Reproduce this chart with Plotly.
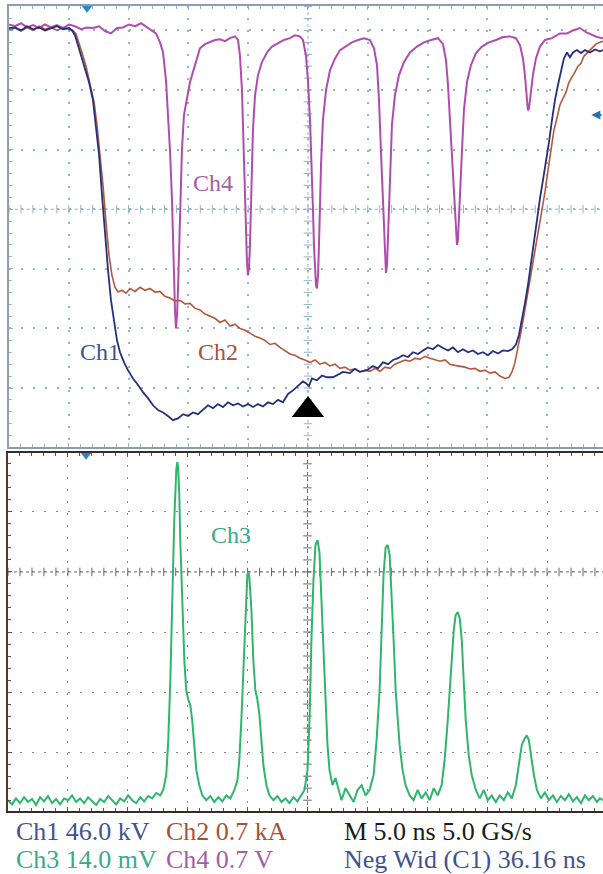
import numpy as np
import plotly.graph_objects as go

# ---------------- data (time in ns, amplitude in screen divisions) ----------------
ch1_points = [(-25.00,3.04),(-24.50,3.05),(-24.00,3.00),(-23.49,3.07),(-22.99,3.02),(-22.49,3.05),(-21.99,3.00),(-21.49,3.04),(-20.99,3.07),(-20.48,3.02),(-19.98,3.04),(-19.73,3.00),(-19.48,2.92),(-19.23,2.75),(-18.98,2.58),(-18.65,2.38),(-18.31,2.13),(-17.98,1.83),(-17.73,1.41),(-17.47,0.91),(-17.22,0.23),(-16.97,-0.44),(-16.72,-1.02),(-16.47,-1.53),(-16.22,-1.90),(-15.97,-2.20),(-15.72,-2.40),(-15.38,-2.57),(-15.05,-2.70),(-14.63,-2.84),(-14.21,-2.95),(-13.80,-3.07),(-13.38,-3.17),(-12.96,-3.29),(-12.54,-3.37),(-12.12,-3.41),(-11.71,-3.47),(-11.29,-3.54),(-10.87,-3.51),(-10.45,-3.44),(-10.03,-3.47),(-9.62,-3.41),(-9.20,-3.44),(-8.78,-3.37),(-8.36,-3.29),(-7.94,-3.34),(-7.53,-3.27),(-7.11,-3.32),(-6.69,-3.24),(-6.27,-3.29),(-5.85,-3.26),(-5.43,-3.31),(-5.02,-3.27),(-4.60,-3.32),(-4.18,-3.27),(-3.76,-3.31),(-3.34,-3.24),(-2.93,-3.27),(-2.51,-3.20),(-2.09,-3.24),(-1.67,-3.10),(-1.25,-3.04),(-0.84,-2.97),(-0.42,-2.89),(-0.17,-2.92),(0.08,-2.97),(0.33,-2.84),(0.75,-2.87),(1.17,-2.79),(1.59,-2.82),(2.09,-2.82),(2.51,-2.77),(2.93,-2.73),(3.51,-2.75),(3.93,-2.68),(4.35,-2.73),(4.93,-2.70),(5.43,-2.63),(5.85,-2.67),(6.27,-2.57),(6.69,-2.60),(7.11,-2.53),(7.53,-2.50),(7.94,-2.45),(8.36,-2.48),(8.78,-2.40),(9.20,-2.43),(9.62,-2.37),(10.03,-2.32),(10.45,-2.35),(10.87,-2.28),(11.29,-2.33),(11.71,-2.37),(12.12,-2.32),(12.54,-2.40),(12.96,-2.35),(13.38,-2.40),(13.80,-2.37),(14.21,-2.43),(14.63,-2.40),(15.05,-2.45),(15.47,-2.38),(15.89,-2.42),(16.30,-2.37),(16.72,-2.38),(17.06,-2.35),(17.39,-2.27),(17.64,-2.11),(17.89,-1.86),(18.14,-1.58),(18.39,-1.28),(18.65,-0.89),(18.90,-0.52),(19.15,-0.15),(19.40,0.18),(19.65,0.49),(19.90,0.79),(20.15,1.12),(20.40,1.49),(20.65,1.83),(20.90,2.08),(21.15,2.33),(21.40,2.53),(21.66,2.63),(21.91,2.55),(22.16,2.63),(22.49,2.67),(22.83,2.62),(23.16,2.67),(23.58,2.63),(24.00,2.68),(24.41,2.65),(24.67,2.67)]

ch2_points = [(-25.00,3.00),(-24.50,3.04),(-24.00,2.99),(-23.49,3.05),(-22.99,3.00),(-22.49,3.07),(-21.99,3.02),(-21.49,3.05),(-20.99,3.00),(-20.48,3.05),(-19.98,3.02),(-19.65,3.00),(-19.40,2.94),(-19.15,2.80),(-18.90,2.63),(-18.56,2.40),(-18.23,2.13),(-17.89,1.80),(-17.64,1.41),(-17.39,0.96),(-17.14,0.40),(-16.89,-0.22),(-16.64,-0.77),(-16.39,-1.11),(-16.14,-1.31),(-15.89,-1.39),(-15.55,-1.36),(-15.22,-1.41),(-14.88,-1.33),(-14.46,-1.38),(-14.05,-1.31),(-13.63,-1.36),(-13.21,-1.33),(-12.79,-1.39),(-12.37,-1.38),(-11.96,-1.46),(-11.54,-1.49),(-11.12,-1.54),(-10.70,-1.53),(-10.28,-1.59),(-9.87,-1.58),(-9.45,-1.66),(-9.03,-1.69),(-8.61,-1.76),(-8.19,-1.80),(-7.78,-1.83),(-7.36,-1.90),(-6.94,-1.86),(-6.52,-1.96),(-6.10,-1.93),(-5.69,-2.00),(-5.27,-2.03),(-4.85,-2.08),(-4.43,-2.13),(-4.01,-2.16),(-3.60,-2.20),(-3.18,-2.27),(-2.76,-2.25),(-2.34,-2.32),(-1.92,-2.37),(-1.51,-2.43),(-1.09,-2.45),(-0.67,-2.50),(-0.25,-2.53),(0.17,-2.57),(0.59,-2.53),(1.00,-2.60),(1.42,-2.57),(1.84,-2.63),(2.26,-2.60),(2.68,-2.67),(3.09,-2.65),(3.51,-2.70),(3.93,-2.68),(4.35,-2.73),(4.77,-2.70),(5.18,-2.72),(5.60,-2.67),(6.02,-2.72),(6.44,-2.65),(6.86,-2.67),(7.27,-2.60),(7.69,-2.57),(8.11,-2.53),(8.53,-2.55),(8.95,-2.50),(9.36,-2.52),(9.78,-2.47),(10.20,-2.50),(10.62,-2.53),(11.04,-2.55),(11.45,-2.53),(11.87,-2.60),(12.29,-2.62),(12.71,-2.63),(13.13,-2.65),(13.55,-2.68),(13.96,-2.67),(14.38,-2.72),(14.80,-2.70),(15.22,-2.75),(15.64,-2.73),(16.05,-2.80),(16.47,-2.84),(16.81,-2.82),(17.06,-2.73),(17.31,-2.57),(17.56,-2.33),(17.81,-2.06),(18.06,-1.78),(18.31,-1.49),(18.56,-1.19),(18.81,-0.89),(19.06,-0.60),(19.31,-0.32),(19.57,-0.02),(19.82,0.29),(20.07,0.65),(20.32,1.02),(20.57,1.33),(20.82,1.53),(21.07,1.75),(21.32,1.86),(21.57,1.96),(21.82,2.13),(22.07,2.21),(22.32,2.30),(22.58,2.40),(22.83,2.45),(23.08,2.57),(23.33,2.62),(23.58,2.67),(23.83,2.72),(24.08,2.77),(24.41,2.80),(24.67,2.82)]

ch4_points = [(-25.00,3.10),(-24.50,3.07),(-24.00,3.12),(-23.49,3.05),(-22.99,3.09),(-22.49,3.04),(-21.99,3.10),(-21.49,3.05),(-20.99,3.09),(-20.48,3.04),(-19.98,3.10),(-19.48,3.07),(-18.98,3.02),(-18.48,3.05),(-17.98,3.04),(-17.47,3.07),(-16.97,2.99),(-16.47,2.95),(-15.97,3.04),(-15.47,3.05),(-14.97,3.10),(-14.46,3.07),(-13.96,3.12),(-13.46,3.05),(-13.04,3.00),(-12.71,2.95),(-12.37,2.80),(-12.12,2.63),(-11.87,2.16),(-11.71,1.66),(-11.54,0.99),(-11.37,0.15),(-11.29,-0.52),(-11.20,-1.19),(-11.12,-1.69),(-11.04,-2.00),(-10.95,-1.78),(-10.87,-1.36),(-10.79,-0.86),(-10.70,-0.35),(-10.62,0.32),(-10.54,0.99),(-10.37,1.58),(-10.12,1.83),(-9.87,2.13),(-9.62,2.30),(-9.28,2.53),(-9.03,2.70),(-8.61,2.77),(-8.19,2.80),(-7.78,2.84),(-7.36,2.85),(-6.94,2.82),(-6.52,2.87),(-6.10,2.90),(-5.85,2.84),(-5.69,2.58),(-5.52,2.00),(-5.43,1.33),(-5.35,0.65),(-5.27,-0.02),(-5.18,-0.52),(-5.10,-0.89),(-5.02,-1.11),(-4.93,-0.99),(-4.85,-0.60),(-4.77,-0.02),(-4.68,0.65),(-4.60,1.33),(-4.43,1.91),(-4.18,2.25),(-3.85,2.47),(-3.43,2.63),(-3.01,2.73),(-2.51,2.79),(-2.01,2.84),(-1.51,2.87),(-1.09,2.92),(-0.67,2.90),(-0.42,2.84),(-0.17,2.58),(0.00,2.16),(0.17,1.49),(0.33,0.65),(0.42,-0.02),(0.50,-0.60),(0.59,-1.02),(0.67,-1.28),(0.75,-1.33),(0.84,-1.11),(0.92,-0.60),(1.00,0.07),(1.09,0.74),(1.25,1.49),(1.51,2.00),(1.84,2.33),(2.26,2.53),(2.68,2.67),(3.18,2.73),(3.68,2.80),(4.18,2.84),(4.68,2.87),(5.18,2.84),(5.52,2.70),(5.77,2.42),(5.94,1.83),(6.10,0.99),(6.27,0.15),(6.35,-0.35),(6.44,-0.82),(6.52,-1.07),(6.61,-0.94),(6.69,-0.52),(6.77,0.07),(6.86,0.65),(7.02,1.41),(7.27,1.91),(7.61,2.25),(8.03,2.47),(8.53,2.63),(9.11,2.73),(9.70,2.80),(10.28,2.84),(10.87,2.87),(11.29,2.77),(11.54,2.50),(11.71,2.08),(11.87,1.49),(12.04,0.82),(12.21,0.15),(12.37,-0.39),(12.46,-0.60),(12.54,-0.52),(12.63,-0.18),(12.71,0.23),(12.88,0.99),(13.04,1.66),(13.29,2.13),(13.63,2.42),(14.05,2.62),(14.55,2.73),(15.13,2.80),(15.72,2.84),(16.30,2.89),(16.89,2.90),(17.39,2.87),(17.73,2.75),(17.98,2.53),(18.14,2.25),(18.31,1.91),(18.39,1.66),(18.48,1.69),(18.65,1.96),(18.81,2.25),(19.06,2.53),(19.40,2.73),(19.82,2.84),(20.40,2.87),(21.07,2.95),(21.66,2.95),(22.16,3.00),(22.74,3.04),(23.24,2.97),(23.75,2.92),(24.16,2.89),(24.67,2.87)]

ch3_points = [(-25.00,-3.80),(-24.67,-3.87),(-24.33,-3.77),(-24.00,-3.85),(-23.66,-3.75),(-23.33,-3.83),(-22.99,-3.78),(-22.66,-3.88),(-22.32,-3.75),(-21.99,-3.82),(-21.66,-3.73),(-21.32,-3.85),(-20.99,-3.78),(-20.65,-3.87),(-20.32,-3.77),(-19.98,-3.80),(-19.65,-3.72),(-19.31,-3.83),(-18.98,-3.77),(-18.65,-3.85),(-18.31,-3.75),(-17.98,-3.82),(-17.64,-3.88),(-17.31,-3.78),(-16.97,-3.83),(-16.64,-3.73),(-16.30,-3.80),(-15.97,-3.87),(-15.64,-3.77),(-15.30,-3.82),(-14.97,-3.72),(-14.63,-3.80),(-14.30,-3.85),(-13.96,-3.75),(-13.63,-3.82),(-13.29,-3.73),(-12.96,-3.77),(-12.63,-3.68),(-12.29,-3.72),(-12.04,-3.63),(-11.79,-3.38),(-11.62,-2.80),(-11.45,-1.80),(-11.29,-0.47),(-11.12,0.87),(-10.95,1.70),(-10.87,1.83),(-10.79,1.73),(-10.70,1.28),(-10.62,0.53),(-10.45,-0.63),(-10.28,-1.47),(-10.12,-1.97),(-9.95,-2.13),(-9.78,-2.22),(-9.62,-2.47),(-9.45,-2.88),(-9.28,-3.30),(-9.03,-3.55),(-8.78,-3.72),(-8.45,-3.80),(-8.11,-3.73),(-7.78,-3.83),(-7.44,-3.75),(-7.11,-3.82),(-6.77,-3.72),(-6.44,-3.77),(-6.10,-3.63),(-5.85,-3.47),(-5.69,-3.13),(-5.52,-2.47),(-5.35,-1.63),(-5.18,-0.63),(-5.02,-0.05),(-4.93,0.00),(-4.85,-0.10),(-4.68,-0.63),(-4.52,-1.47),(-4.35,-1.97),(-4.18,-2.13),(-4.01,-2.38),(-3.85,-2.80),(-3.68,-3.22),(-3.43,-3.55),(-3.18,-3.72),(-2.84,-3.80),(-2.51,-3.73),(-2.17,-3.83),(-1.84,-3.77),(-1.51,-3.85),(-1.17,-3.75),(-0.84,-3.82),(-0.50,-3.72),(-0.25,-3.63),(0.00,-3.30),(0.17,-2.47),(0.33,-1.13),(0.50,-0.13),(0.67,0.45),(0.84,0.53),(1.00,0.33),(1.17,-0.47),(1.34,-1.47),(1.51,-2.30),(1.67,-2.88),(1.84,-3.30),(2.09,-3.55),(2.34,-3.43),(2.59,-3.63),(2.84,-3.80),(3.18,-3.60),(3.51,-3.72),(3.85,-3.83),(4.18,-3.63),(4.52,-3.55),(4.85,-3.72),(5.18,-3.63),(5.52,-3.38),(5.77,-2.80),(6.02,-1.97),(6.19,-0.97),(6.35,-0.05),(6.52,0.40),(6.69,0.45),(6.86,0.28),(7.02,-0.30),(7.19,-1.13),(7.36,-1.97),(7.53,-2.47),(7.69,-2.88),(7.94,-3.30),(8.19,-3.55),(8.53,-3.72),(8.86,-3.80),(9.20,-3.63),(9.53,-3.77),(9.87,-3.67),(10.20,-3.80),(10.54,-3.60),(10.87,-3.72),(11.20,-3.55),(11.45,-3.13),(11.71,-2.47),(11.96,-1.63),(12.21,-0.97),(12.37,-0.72),(12.54,-0.67),(12.71,-0.77),(12.88,-1.13),(13.04,-1.80),(13.21,-2.47),(13.46,-3.05),(13.71,-3.38),(14.05,-3.63),(14.38,-3.77),(14.72,-3.63),(15.05,-3.80),(15.38,-3.72),(15.72,-3.83),(16.05,-3.72),(16.39,-3.80),(16.72,-3.67),(17.06,-3.77),(17.39,-3.55),(17.64,-3.22),(17.89,-2.88),(18.14,-2.77),(18.31,-2.72),(18.48,-2.80),(18.65,-3.05),(18.90,-3.38),(19.15,-3.63),(19.48,-3.77),(19.82,-3.67),(20.15,-3.80),(20.49,-3.72),(20.82,-3.83),(21.15,-3.73),(21.49,-3.80),(21.82,-3.70),(22.16,-3.82),(22.49,-3.75),(22.83,-3.85),(23.16,-3.72),(23.49,-3.80),(23.83,-3.73),(24.16,-3.83),(24.41,-3.77),(24.67,-3.80)]

trigger_time = [0.0]
trigger_level = [-3.37]
pretrig_time = [-18.48]
level_arrow = [1.58]

channel_labels = ["Ch1", "Ch2", "Ch3", "Ch4"]
readout_row1 = ["Ch1 46.0 kV", "Ch2 0.7 kA", "M 5.0 ns 5.0 GS/s"]
readout_row2 = ["Ch3 14.0 mV", "Ch4 0.7 V", "Neg Wid (C1) 36.16 ns"]

# ---------------- styling ----------------
W, H = 603, 874
FONT = "Liberation Serif"
C1, C2, C3, C4 = "#25307c", "#b3583c", "#2fb56c", "#b04cae"
T1, T2, T3, T4 = "#3f5391", "#a8513a", "#3aa98b", "#a45ca8"
GRID_TOP, GRID_BOT = "#93b4c4", "#858585"

X_RANGE = [-25.0, 24.67]
Y1_RANGE = [-3.99, 3.41]
Y2_RANGE = [-3.98, 1.98]

def py(px):
    return 1 - px / H

fig = go.Figure()

def unzip(pts):
    return [p[0] for p in pts], [p[1] for p in pts]

# crosshair tick marks (decoration)
def crosshair(xa, ya, yr, col):
    xt = np.arange(-25, 24.7, 1.0)
    fig.add_trace(go.Scatter(x=xt, y=np.zeros_like(xt), mode="markers", xaxis=xa, yaxis=ya,
                             marker=dict(symbol="line-ns", size=6, line=dict(width=1, color=col)),
                             hoverinfo="skip", showlegend=False))
    yt = np.arange(np.ceil(yr[0] / 0.2) * 0.2, yr[1], 0.2)
    fig.add_trace(go.Scatter(x=np.zeros_like(yt), y=yt, mode="markers", xaxis=xa, yaxis=ya,
                             marker=dict(symbol="line-ew", size=6, line=dict(width=1, color=col)),
                             hoverinfo="skip", showlegend=False))

crosshair("x", "y", Y1_RANGE, GRID_TOP)
crosshair("x2", "y2", Y2_RANGE, "#666666")

for pts, col, w in [(ch4_points, C4, 2.0), (ch2_points, C2, 1.6), (ch1_points, C1, 1.8)]:
    t, v = unzip(pts)
    fig.add_trace(go.Scatter(x=t, y=v, mode="lines", line=dict(color=col, width=w),
                             xaxis="x", yaxis="y", hoverinfo="skip", showlegend=False))

t3, v3 = unzip(ch3_points)
fig.add_trace(go.Scatter(x=t3, y=v3, mode="lines", line=dict(color=C3, width=2.0),
                         xaxis="x2", yaxis="y2", hoverinfo="skip", showlegend=False))

# trigger triangle
fig.add_trace(go.Scatter(x=trigger_time, y=trigger_level, mode="markers", xaxis="x", yaxis="y",
                         marker=dict(symbol="triangle-up", size=28, color="black"),
                         hoverinfo="skip", showlegend=False))
# pre-trigger position markers
fig.add_trace(go.Scatter(x=pretrig_time, y=[Y1_RANGE[1] - 0.02], mode="markers", xaxis="x", yaxis="y",
                         marker=dict(symbol="triangle-down", size=11, color="#2a86c6"),
                         cliponaxis=False, hoverinfo="skip", showlegend=False))
fig.add_trace(go.Scatter(x=pretrig_time, y=[Y2_RANGE[1] - 0.02], mode="markers", xaxis="x2", yaxis="y2",
                         marker=dict(symbol="triangle-down", size=11, color="#2a86c6"),
                         cliponaxis=False, hoverinfo="skip", showlegend=False))

axis_common = dict(showticklabels=False, zeroline=False, showline=True, fixedrange=True)

fig.update_layout(
    width=W, height=H, margin=dict(l=0, r=0, t=0, b=0),
    paper_bgcolor="white", plot_bgcolor="white", showlegend=False,
    xaxis=dict(domain=[9 / W, 1], range=X_RANGE, anchor="y", dtick=5, tick0=0,
               showgrid=True, gridcolor=GRID_TOP, gridwidth=1.6, griddash="2px,10px",
               linecolor="#8c9db3", linewidth=1.5, mirror="ticks",
               ticks="inside", ticklen=4, tickcolor=GRID_TOP,
               minor=dict(dtick=1, ticks="inside", ticklen=3, tickcolor=GRID_TOP, showgrid=False),
               **axis_common),
    yaxis=dict(domain=[py(447), py(6)], range=Y1_RANGE, anchor="x", dtick=1, tick0=0,
               showgrid=True, gridcolor=GRID_TOP, gridwidth=1.6, griddash="2px,10px",
               linecolor="#8c9db3", linewidth=1.5,
               ticks="inside", ticklen=4, tickcolor=GRID_TOP,
               minor=dict(dtick=0.2, ticks="inside", ticklen=3, tickcolor=GRID_TOP, showgrid=False),
               **axis_common),
    xaxis2=dict(domain=[8 / W, 1], range=X_RANGE, anchor="y2", dtick=5, tick0=0,
                showgrid=True, gridcolor=GRID_BOT, gridwidth=1.4, griddash="2px,10px",
                linecolor="#3a2a26", linewidth=1.5, mirror="ticks",
                ticks="inside", ticklen=4, tickcolor="#555555",
                minor=dict(dtick=1, ticks="inside", ticklen=3, tickcolor="#555555", showgrid=False),
                **axis_common),
    yaxis2=dict(domain=[py(811), py(453)], range=Y2_RANGE, anchor="x2", dtick=1, tick0=0,
                showgrid=True, gridcolor=GRID_BOT, gridwidth=1.4, griddash="2px,10px",
                linecolor="#5a3526", linewidth=1.5,
                ticks="inside", ticklen=4, tickcolor="#555555",
                minor=dict(dtick=0.2, ticks="inside", ticklen=3, tickcolor="#555555", showgrid=False),
                **axis_common),
)

# center crosshair lines
for xr, yr, col, rng in [("x", "y", GRID_TOP, Y1_RANGE), ("x2", "y2", "#666666", Y2_RANGE)]:
    fig.add_shape(type="line", xref=xr, yref=yr, x0=X_RANGE[0], x1=X_RANGE[1], y0=0, y1=0,
                  line=dict(color=col, width=1, dash="3px,3px"), layer="below")
    fig.add_shape(type="line", xref=xr, yref=yr, x0=0, x1=0, y0=rng[0], y1=rng[1],
                  line=dict(color=col, width=1, dash="3px,3px"), layer="below")

# trigger level arrow at right edge
fig.add_annotation(x=23.7, y=level_arrow[0], xref="x", yref="y", text="", showarrow=True,
                   ax=12, ay=0, arrowhead=2, arrowsize=0.9, arrowwidth=2, arrowcolor="#2a6fb8")

# channel labels inside the plots
fig.add_annotation(x=-7.94, y=0.44, xref="x", yref="y", text=channel_labels[3], font=dict(family=FONT, size=24, color=T4), showarrow=False)
fig.add_annotation(x=-17.39, y=-2.40, xref="x", yref="y", text=channel_labels[0], font=dict(family=FONT, size=24, color=T1), showarrow=False)
fig.add_annotation(x=-7.53, y=-2.40, xref="x", yref="y", text=channel_labels[1], font=dict(family=FONT, size=24, color=T2), showarrow=False)
fig.add_annotation(x=-6.35, y=0.62, xref="x2", yref="y2", text=channel_labels[2], font=dict(family=FONT, size=24, color=T3), showarrow=False)

# readout text below
row_cols1 = [T1, T2, "#1a1a1a"]
row_cols2 = [T3, T4, T1]
xs = [14, 164, 342]
for txt, col, x in zip(readout_row1, row_cols1, xs):
    fig.add_annotation(x=x / W, y=py(831), xref="paper", yref="paper", xanchor="left", yanchor="middle",
                       text=txt, showarrow=False, font=dict(family=FONT, size=26, color=col))
for txt, col, x in zip(readout_row2, row_cols2, xs):
    fig.add_annotation(x=x / W, y=py(859), xref="paper", yref="paper", xanchor="left", yanchor="middle",
                       text=txt, showarrow=False, font=dict(family=FONT, size=26, color=col))

fig.write_html("out.html", config={"displayModeBar": False},
               post_script="document.body.style.margin='0';document.body.style.overflow='hidden';")
